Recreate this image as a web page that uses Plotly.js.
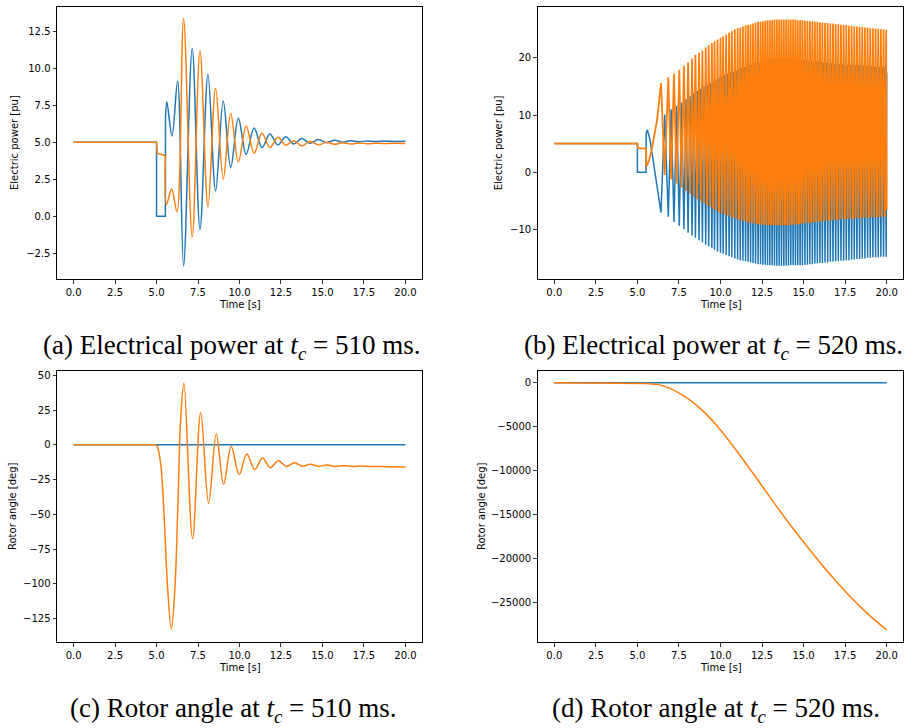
<!DOCTYPE html>
<html>
<head>
<meta charset="utf-8">
<script src="https://cdn.plot.ly/plotly-3.0.1.min.js"></script>
<style>
  html, body { margin: 0; padding: 0; background: #fff; }
  #chart { width: 908px; height: 728px; }
</style>
</head>
<body>
<div id="chart"></div>
<script>
// ---------------- DATA ----------------
// (a) Electric power, tc = 510 ms
const aBlueStepT = [0, 5.0, 5.0, 5.53, 5.54];
const aBlueStepV = [5.0, 5.0, 0.0, 0.0, 6.6];
const aBlueOscT = [5.54, 5.62, 5.93, 6.27, 6.63, 7.15, 7.62, 8.10, 8.56, 9.02, 9.47, 9.93, 10.40, 10.88, 11.36, 11.83, 12.31, 12.79, 13.27, 13.76, 14.25, 14.75, 15.24, 15.73, 16.22, 16.71, 17.2, 17.7, 18.2, 18.7, 19.2, 20.0];
const aBlueOscV = [6.6, 7.73, 5.43, 9.14, -3.36, 11.33, -0.88, 9.6, 1.71, 7.79, 3.29, 6.62, 4.19, 5.97, 4.64, 5.56, 4.82, 5.38, 4.89, 5.25, 4.93, 5.18, 4.97, 5.13, 5.0, 5.1, 5.03, 5.09, 5.05, 5.08, 5.06, 5.07];
const aOrangeStepT = [0, 5.0, 5.04, 5.53];
const aOrangeStepV = [5.0, 5.0, 4.25, 4.1];
const aOrangeOscT = [5.53, 5.60, 5.91, 6.23, 6.63, 7.15, 7.62, 8.10, 8.56, 9.02, 9.47, 9.93, 10.40, 10.88, 11.36, 11.83, 12.31, 12.79, 13.27, 13.76, 14.25, 14.75, 15.24, 15.73, 16.22, 16.71, 17.2, 17.7, 18.2, 18.7, 19.2, 20.0];
const aOrangeOscV = [4.1, 0.8, 1.84, 0.3, 13.36, -1.37, 11.17, 0.63, 8.65, 2.5, 6.94, 3.67, 6.1, 4.26, 5.61, 4.64, 5.34, 4.8, 5.11, 4.75, 5.05, 4.82, 5.0, 4.86, 4.97, 4.88, 4.95, 4.9, 4.94, 4.91, 4.93, 4.92];

// (b) Electric power, tc = 520 ms
const bOrangePreT = [0, 5.0, 5.03, 5.52, 5.54, 5.70, 5.88, 6.05, 6.18, 6.30];
const bOrangePreV = [5.0, 5.0, 4.2, 4.1, 1.0, 2.0, 4.2, 6.8, 9.1, 12.2];
const bBluePreT = [0, 5.0, 5.0, 5.52, 5.53, 5.60, 5.75, 5.95, 6.15, 6.30];
const bBluePreV = [5.0, 5.0, 0.0, 0.0, 6.8, 7.4, 5.8, 2.0, -2.5, -5.2];
// times of the orange upper spikes (blue lower spikes)
const bSpikeT = [6.42, 6.86, 7.20, 7.52, 7.80, 8.05, 8.29, 8.49, 8.71, 8.91,
  9.11, 9.29, 9.48, 9.64, 9.82, 10.00, 10.16, 10.34, 10.52, 10.68,
  10.86, 11.03, 11.19, 11.35, 11.51, 11.66, 11.81, 11.96, 12.11, 12.26,
  12.41, 12.55, 12.69, 12.83, 12.97, 13.11, 13.25, 13.39, 13.53, 13.67,
  13.81, 13.95, 14.09, 14.23, 14.37, 14.51, 14.65, 14.79, 14.93, 15.08,
  15.23, 15.38, 15.53, 15.68, 15.83, 15.98, 16.13, 16.29, 16.45, 16.61,
  16.77, 16.93, 17.09, 17.25, 17.41, 17.57, 17.73, 17.89, 18.05, 18.21,
  18.37, 18.53, 18.69, 18.85, 19.01, 19.17, 19.33, 19.49, 19.65, 19.81, 19.97];
const bOrangeMax = [15.6, 16.6, 17.2, 17.9, 18.6, 19.2, 19.9, 20.5, 20.9, 21.3,
  21.8, 22.2, 22.6, 22.9, 23.2, 23.5, 23.8, 24.1, 24.4, 24.7,
  25.0, 25.2, 25.3, 25.5, 25.7, 25.8, 25.9, 26.0, 26.2, 26.3,
  26.3, 26.4, 26.5, 26.6, 26.6, 26.6, 26.7, 26.7, 26.7, 26.7,
  26.7, 26.7, 26.7, 26.7, 26.7, 26.7, 26.6, 26.6, 26.6, 26.5,
  26.5, 26.4, 26.4, 26.3, 26.3, 26.2, 26.2, 26.1, 26.1, 26.0,
  26.0, 25.9, 25.9, 25.8, 25.8, 25.7, 25.6, 25.6, 25.5, 25.5,
  25.4, 25.4, 25.3, 25.3, 25.2, 25.2, 25.1, 25.1, 25.0, 25.0, 24.9];
const bOrangeMin = [-0.5, -1.3, -2.0, -2.7, -3.3, -3.8, -4.3, -4.7, -5.1, -5.4,
  -5.8, -6.1, -6.4, -6.7, -7.0, -7.2, -7.4, -7.6, -7.8, -8.0,
  -8.2, -8.3, -8.5, -8.6, -8.7, -8.8, -8.9, -9.0, -9.1, -9.1,
  -9.2, -9.2, -9.3, -9.3, -9.3, -9.3, -9.3, -9.3, -9.3, -9.3,
  -9.3, -9.3, -9.3, -9.2, -9.2, -9.1, -9.1, -9.0, -9.0, -8.9,
  -8.9, -8.8, -8.8, -8.7, -8.7, -8.6, -8.6, -8.5, -8.5, -8.4,
  -8.4, -8.3, -8.3, -8.3, -8.2, -8.2, -8.2, -8.1, -8.1, -8.1,
  -8.0, -8.0, -8.0, -8.0, -7.9, -7.9, -7.9, -7.9, -7.8, -7.8];
const bBlueMax = [10.1, 11.0, 11.6, 12.2, 12.8, 13.3, 13.8, 14.2, 14.6, 15.0,
  15.3, 15.6, 15.9, 16.2, 16.5, 16.7, 17.0, 17.2, 17.4, 17.6,
  17.8, 18.0, 18.2, 18.4, 18.5, 18.7, 18.8, 19.0, 19.1, 19.2,
  19.3, 19.4, 19.5, 19.6, 19.7, 19.7, 19.8, 19.8, 19.8, 19.8,
  19.8, 19.8, 19.8, 19.8, 19.7, 19.7, 19.7, 19.7, 19.6, 19.6,
  19.5, 19.5, 19.4, 19.4, 19.3, 19.3, 19.2, 19.2, 19.1, 19.1,
  19.0, 19.0, 18.9, 18.9, 18.9, 18.8, 18.8, 18.8, 18.7, 18.7,
  18.7, 18.6, 18.6, 18.6, 18.5, 18.5, 18.5, 18.4, 18.4, 18.3];
const bBlueMin = [-7.1, -7.8, -8.7, -9.4, -10.0, -10.6, -11.1, -11.5, -11.9, -12.3,
  -12.7, -13.0, -13.3, -13.6, -13.9, -14.1, -14.3, -14.5, -14.7, -14.9,
  -15.1, -15.3, -15.4, -15.5, -15.6, -15.7, -15.8, -15.9, -16.0, -16.1,
  -16.1, -16.2, -16.2, -16.3, -16.3, -16.3, -16.4, -16.4, -16.4, -16.4,
  -16.4, -16.4, -16.4, -16.3, -16.3, -16.3, -16.3, -16.3, -16.3, -16.2,
  -16.2, -16.1, -16.1, -16.0, -16.0, -15.9, -15.9, -15.8, -15.8, -15.7,
  -15.7, -15.6, -15.6, -15.5, -15.5, -15.4, -15.4, -15.3, -15.3, -15.2,
  -15.2, -15.1, -15.1, -15.0, -15.0, -14.9, -14.9, -14.9, -14.8, -14.8, -14.8];
const bEndT = 20.0;
const bOrangeEnd = -6.6;
const bBlueEnd = 17.4;

// (c) Rotor angle, tc = 510 ms
const cBlueT = [0, 20.0];
const cBlueV = [0, 0];
const cOrangeFlatT = [0, 4.98];
const cOrangeFlatV = [0, 0];
const cOrangeT = [4.98, 5.04, 5.25, 5.45, 5.65, 5.89, 6.11, 6.29, 6.45, 6.65, 7.17, 7.66, 8.14, 8.60, 9.04, 9.50, 9.98, 10.44, 10.92, 11.38, 11.86, 12.34, 12.83, 13.31, 13.79, 14.27, 14.77, 15.27, 15.77, 16.27, 16.80, 17.30, 18.0, 19.0, 20.0];
const cOrangeV = [0, -1.0, -13.5, -49.3, -99.4, -132.6, -101.9, -42.1, 17.6, 44.3, -67.4, 23.0, -42.1, 8.0, -28.3, -1.1, -21.4, -6.6, -17.8, -9.4, -16.4, -11.4, -15.6, -12.8, -15.4, -14.0, -15.4, -14.5, -15.5, -15.0, -15.6, -15.3, -15.6, -15.7, -15.9];

// (d) Rotor angle, tc = 520 ms
const dBlueT = [0, 20.0];
const dBlueV = [0, 0];
const dOrangeFlatT = [0, 5.0, 5.5, 6.0, 6.3];
const dOrangeFlatV = [0, 0, -80, -150, -200];
const dOrangeT = [6.3, 7.0, 8.0, 9.0, 10.0, 11.0, 12.0, 13.0, 14.0, 15.0, 16.0, 17.0, 18.0, 19.0, 20.0];
const dOrangeV = [-200, -650, -1750, -3300, -5350, -7800, -10400, -13050, -15650, -18100, -20450, -22650, -24700, -26500, -28100];

const xTicks = [0, 2.5, 5, 7.5, 10, 12.5, 15, 17.5, 20];
const xTickText = ['0.0', '2.5', '5.0', '7.5', '10.0', '12.5', '15.0', '17.5', '20.0'];
const aYTicks = [-2.5, 0, 2.5, 5, 7.5, 10, 12.5];
const aYTickText = ['\u22122.5', '0.0', '2.5', '5.0', '7.5', '10.0', '12.5'];
const bYTicks = [-10, 0, 10, 20];
const bYTickText = ['\u221210', '0', '10', '20'];
const cYTicks = [-125, -100, -75, -50, -25, 0, 25, 50];
const cYTickText = ['\u2212125', '\u2212100', '\u221275', '\u221250', '\u221225', '0', '25', '50'];
const dYTicks = [-25000, -20000, -15000, -10000, -5000, 0];
const dYTickText = ['\u221225000', '\u221220000', '\u221215000', '\u221210000', '\u22125000', '0'];

// ------------- BUILD -------------
const BLUE = '#1f77b4', ORANGE = '#ff7f0e';

function spikeSeries(preT, preV, spikeT, atSpike, between, endT, endV) {
  const x = preT.slice(), y = preV.slice();
  const n = spikeT.length;
  for (let i = 0; i < n; i++) {
    x.push(spikeT[i]); y.push(atSpike[i]);
    if (i < n - 1) { x.push((spikeT[i] + spikeT[i + 1]) / 2); y.push(between[i]); }
  }
  x.push(endT); y.push(endV);
  return {x, y};
}
const bOr = spikeSeries(bOrangePreT, bOrangePreV, bSpikeT, bOrangeMax, bOrangeMin, bEndT, bOrangeEnd);
const bBl = spikeSeries(bBluePreT, bBluePreV, bSpikeT, bBlueMin, bBlueMax, bEndT, bBlueEnd);

function tr(x, y, color, xa, ya, shape, w) {
  return {x, y, type: 'scatter', mode: 'lines', xaxis: xa, yaxis: ya,
    line: {color, width: w || 1.5, shape: shape || 'linear'}, hoverinfo: 'skip', showlegend: false};
}

const traces = [
  tr(aBlueStepT, aBlueStepV, BLUE, 'x', 'y'),
  tr(aBlueOscT, aBlueOscV, BLUE, 'x', 'y', 'spline'),
  tr(aOrangeStepT, aOrangeStepV, ORANGE, 'x', 'y'),
  tr(aOrangeOscT, aOrangeOscV, ORANGE, 'x', 'y', 'spline'),
  tr(bBl.x, bBl.y, BLUE, 'x2', 'y2', 'linear', 1.5),
  tr(bOr.x, bOr.y, ORANGE, 'x2', 'y2', 'linear', 1.8),
  tr(cBlueT, cBlueV, BLUE, 'x3', 'y3'),
  tr(cOrangeFlatT, cOrangeFlatV, ORANGE, 'x3', 'y3'),
  tr(cOrangeT, cOrangeV, ORANGE, 'x3', 'y3', 'spline'),
  tr(dBlueT, dBlueV, BLUE, 'x4', 'y4'),
  tr(dOrangeFlatT, dOrangeFlatV, ORANGE, 'x4', 'y4'),
  tr(dOrangeT, dOrangeV, ORANGE, 'x4', 'y4', 'spline'),
];

const W = 908, H = 728;
const px = v => v / W, py = v => 1 - v / H;

function axisBase(extra) {
  return Object.assign({
    showline: true, mirror: true, linecolor: '#000', linewidth: 1,
    ticks: 'outside', ticklen: 3.5, tickwidth: 0.8, tickcolor: '#000',
    showgrid: false, zeroline: false, fixedrange: true,
    tickfont: {family: 'DejaVu Sans', size: 10, color: '#000'}
  }, extra);
}
const xCommon = {tickmode: 'array', tickvals: xTicks, ticktext: xTickText, range: [-1, 21]};

const leftDom = [px(57), px(422)];
const rightDom = [px(537.7), px(903.3)];
const topDom = [py(279), py(7)];
const botDom = [py(642.3), py(370.5)];

const layout = {
  width: W, height: H,
  margin: {l: 0, r: 0, t: 0, b: 0},
  paper_bgcolor: '#fff', plot_bgcolor: '#fff',
  showlegend: false,
  xaxis: axisBase(Object.assign({domain: leftDom, anchor: 'y'}, xCommon)),
  yaxis: axisBase({domain: topDom, anchor: 'x', range: [-4.24, 14.14], tickmode: 'array', tickvals: aYTicks, ticktext: aYTickText}),
  xaxis2: axisBase(Object.assign({domain: rightDom, anchor: 'y2'}, xCommon)),
  yaxis2: axisBase({domain: topDom, anchor: 'x2', range: [-18.7, 28.9], tickmode: 'array', tickvals: bYTicks, ticktext: bYTickText}),
  xaxis3: axisBase(Object.assign({domain: leftDom, anchor: 'y3'}, xCommon)),
  yaxis3: axisBase({domain: botDom, anchor: 'x3', range: [-141.9, 53.4], tickmode: 'array', tickvals: cYTicks, ticktext: cYTickText}),
  xaxis4: axisBase(Object.assign({domain: rightDom, anchor: 'y4'}, xCommon)),
  yaxis4: axisBase({domain: botDom, anchor: 'x4', range: [-29505, 1405], tickmode: 'array', tickvals: dYTicks, ticktext: dYTickText}),
  annotations: []
};

function ann(text, x, y, opts) {
  layout.annotations.push(Object.assign({
    text, x: px(x), y: py(y), xref: 'paper', yref: 'paper', showarrow: false,
    xanchor: 'center', yanchor: 'middle',
    font: {family: 'DejaVu Sans', size: 10, color: '#000'}
  }, opts || {}));
}
// axis titles
ann('Time [s]', 239.5, 304.5);
ann('Time [s]', 720.5, 304.5);
ann('Time [s]', 239.5, 667);
ann('Time [s]', 720.5, 667);
ann('Electric power [pu]', 15, 143, {textangle: -90});
ann('Electric power [pu]', 499.3, 143, {textangle: -90});
ann('Rotor angle [deg]', 12, 506, {textangle: -90});
ann('Rotor angle [deg]', 481, 506, {textangle: -90});
// captions
const capFont = {family: 'Liberation Serif', size: 27, color: '#000'};
ann('(a) Electrical power at <i>t<sub>c</sub></i> = 510 ms.', 232, 347, {font: capFont});
ann('(b) Electrical power at <i>t<sub>c</sub></i> = 520 ms.', 713.5, 347, {font: capFont});
ann('(c) Rotor angle at <i>t<sub>c</sub></i> = 510 ms.', 233, 710, {font: capFont});
ann('(d) Rotor angle at <i>t<sub>c</sub></i> = 520 ms.', 715.5, 710, {font: capFont});

Plotly.newPlot('chart', traces, layout, {staticPlot: true, displayModeBar: false});
</script>
</body>
</html>
